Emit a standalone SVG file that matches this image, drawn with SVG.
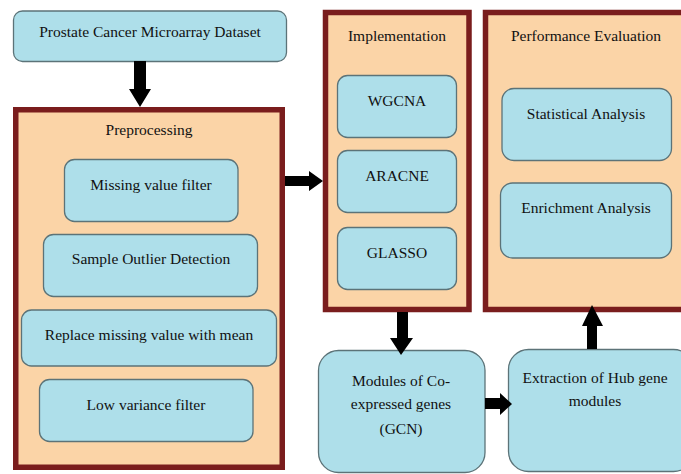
<svg xmlns="http://www.w3.org/2000/svg" width="681" height="474" viewBox="0 0 681 474">
<style>
.bg{fill:#ffffff}
.panel{fill:#fbd4a7;stroke:#7a1d1d;stroke-width:5.5}
.box{fill:#aedfea;stroke:#5c7378;stroke-width:1.3}
.t{font-family:"Liberation Serif","Times New Roman",serif;font-size:15.5px;fill:#111111;text-anchor:middle;dominant-baseline:central}
.arr{fill:#000000}
</style>
<rect class="bg" x="0" y="0" width="681" height="474"/>
<g id="dataset">
<rect class="box" x="13.5" y="11" width="273" height="50.5" rx="9"/>
<text class="t" x="150" y="31">Prostate Cancer Microarray Dataset</text>
</g>
<g id="preprocessing">
<rect class="panel" x="15.75" y="109.75" width="266.5" height="357.5"/>
<text class="t" x="149" y="129">Preprocessing</text>
</g>
<g id="missing-value-filter">
<rect class="box" x="64.5" y="159.5" width="173.5" height="62" rx="10"/>
<text class="t" x="151" y="184">Missing value filter</text>
</g>
<g id="sample-outlier">
<rect class="box" x="43.5" y="234.5" width="214" height="62" rx="10"/>
<text class="t" x="151" y="258">Sample Outlier Detection</text>
</g>
<g id="replace-missing">
<rect class="box" x="21.5" y="310" width="255" height="56" rx="10"/>
<text class="t" x="149" y="334">Replace missing value with mean</text>
</g>
<g id="low-variance">
<rect class="box" x="39.5" y="379.5" width="213.5" height="62" rx="10"/>
<text class="t" x="146" y="404">Low variance filter</text>
</g>
<g id="implementation">
<rect class="panel" x="325.5" y="12.5" width="143.5" height="297"/>
<text class="t" x="397" y="35">Implementation</text>
</g>
<g id="wgcna">
<rect class="box" x="337.5" y="75.5" width="119" height="62" rx="10"/>
<text class="t" x="397" y="100">WGCNA</text>
</g>
<g id="aracne">
<rect class="box" x="337.5" y="150.5" width="119" height="62" rx="10"/>
<text class="t" x="397" y="175">ARACNE</text>
</g>
<g id="glasso">
<rect class="box" x="337.5" y="227.5" width="119" height="62" rx="10"/>
<text class="t" x="397" y="252">GLASSO</text>
</g>
<g id="performance-evaluation">
<rect class="panel" x="485.5" y="12.5" width="200" height="297"/>
<text class="t" x="586" y="35">Performance Evaluation</text>
</g>
<g id="statistical-analysis">
<rect class="box" x="502" y="88.5" width="169.5" height="72" rx="12"/>
<text class="t" x="586" y="113">Statistical Analysis</text>
</g>
<g id="enrichment-analysis">
<rect class="box" x="500.5" y="183" width="171" height="75" rx="12"/>
<text class="t" x="586" y="207">Enrichment Analysis</text>
</g>
<g id="modules-gcn">
<rect class="box" x="318.5" y="350.5" width="166.5" height="122" rx="20"/>
<text class="t" x="401" y="380">Modules of Co-</text>
<text class="t" x="401" y="403">expressed genes</text>
<text class="t" x="401" y="428">(GCN)</text>
</g>
<g id="hub-extraction">
<rect class="box" x="508.5" y="349.5" width="185" height="122" rx="20"/>
<text class="t" x="595" y="377">Extraction of Hub gene</text>
<text class="t" x="595" y="400">modules</text>
</g>
<g id="connectors">
<polygon class="arr" points="134,61 146,61 146,89 151,89 140,107 129,89 134,89"/>
<polygon class="arr" points="285,176 309,176 309,171 323,181 309,191 309,186 285,186"/>
<polygon class="arr" points="397,312 408,312 408,338 413,338 401,355 390,338 397,338"/>
<polygon class="arr" points="485,398 500,398 500,393 512,404 500,415 500,409 485,409"/>
<polygon class="arr" points="587,349 597,349 597,326 603,326 592,305 582,326 587,326"/>
</g>
</svg>
